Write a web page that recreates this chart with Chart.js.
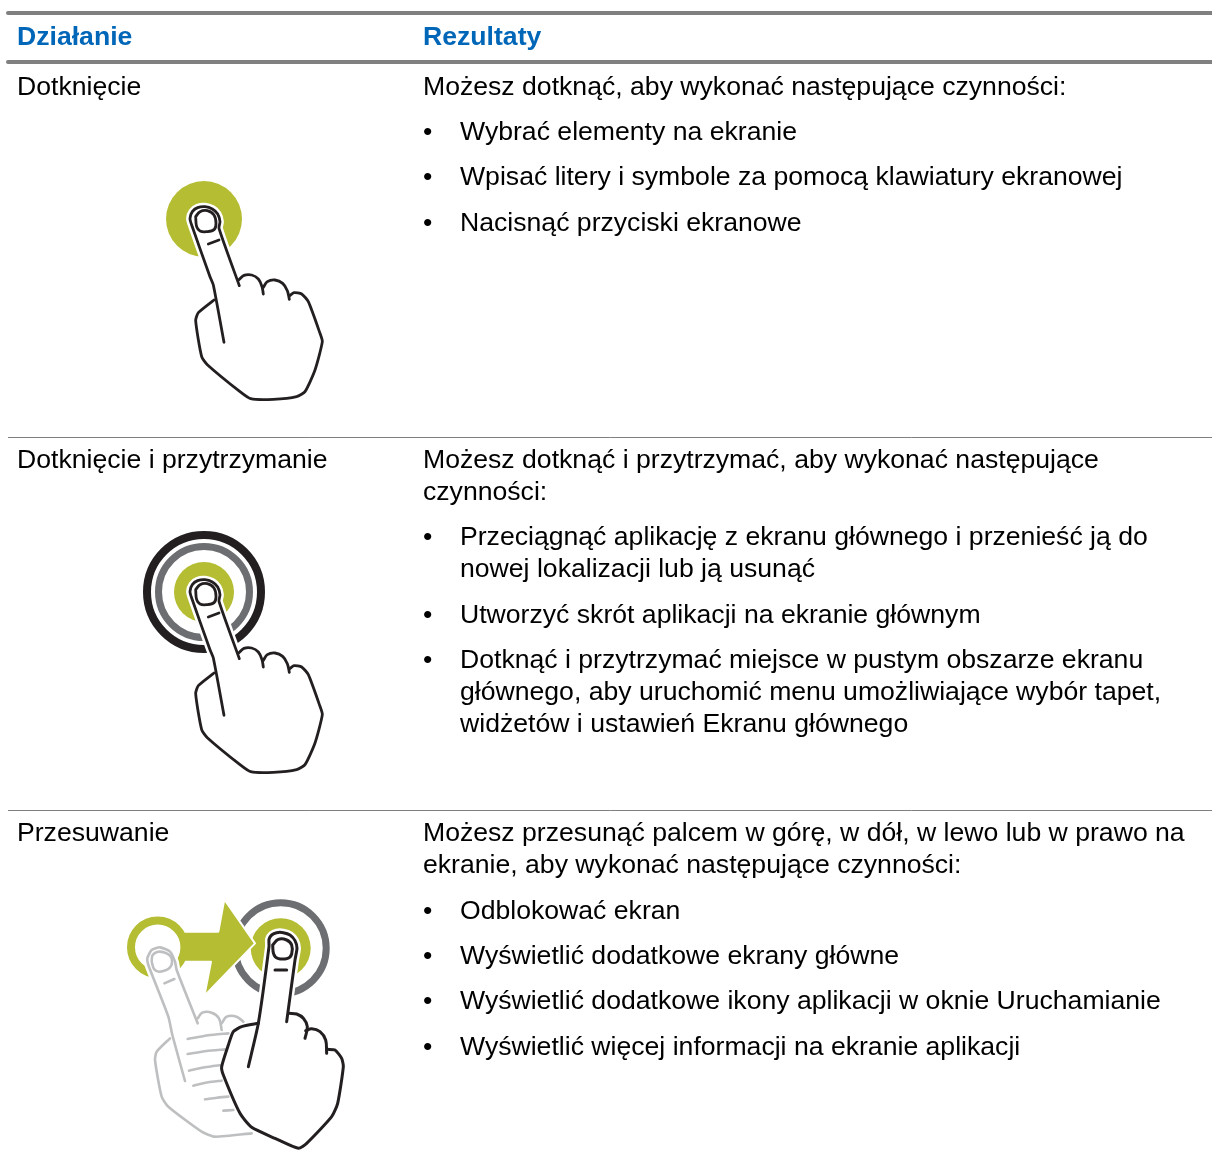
<!DOCTYPE html>
<html lang="pl">
<head>
<meta charset="utf-8">
<style>
html,body{margin:0;padding:0;background:#fff;width:1212px;height:1175px;overflow:hidden}
#wrap{position:relative;width:1212px;height:1175px}
canvas{position:absolute;left:0;top:0}
.t{position:absolute;white-space:pre;font-family:"Liberation Sans",Arial,sans-serif;font-size:26.62px;line-height:30px;color:#000}
.h{font-weight:bold;color:#0066b8}
</style>
<script src="https://cdn.jsdelivr.net/npm/chart.js@4"></script>
</head>
<body>
<div id="wrap"><canvas id="c" width="1212" height="1175"></canvas></div>
<script>
// ---- Text content ----
const headerLabels = ["Działanie", "Rezultaty"];
const actionLabels = ["Dotknięcie", "Dotknięcie i przytrzymanie", "Przesuwanie"];
const resultLines = [
  "Możesz dotknąć, aby wykonać następujące czynności:",
  "Możesz dotknąć i przytrzymać, aby wykonać następujące",
  "czynności:",
  "Możesz przesunąć palcem w górę, w dół, w lewo lub w prawo na",
  "ekranie, aby wykonać następujące czynności:"
];
const resultLineY = [86, 459, 491, 832, 864];
const bulletLines = [
  "Wybrać elementy na ekranie",
  "Wpisać litery i symbole za pomocą klawiatury ekranowej",
  "Nacisnąć przyciski ekranowe",
  "Przeciągnąć aplikację z ekranu głównego i przenieść ją do",
  "nowej lokalizacji lub ją usunąć",
  "Utworzyć skrót aplikacji na ekranie głównym",
  "Dotknąć i przytrzymać miejsce w pustym obszarze ekranu",
  "głównego, aby uruchomić menu umożliwiające wybór tapet,",
  "widżetów i ustawień Ekranu głównego",
  "Odblokować ekran",
  "Wyświetlić dodatkowe ekrany główne",
  "Wyświetlić dodatkowe ikony aplikacji w oknie Uruchamianie",
  "Wyświetlić więcej informacji na ekranie aplikacji"
];
const bulletLineY = [131,176,222,536,568,614,659,691,723,910,955,1000,1046];
const bulletFlags = [1,1,1,1,0,1,1,0,0,1,1,1,1];
const actionY = [86,459,832];

// ---- Illustration outlines (crop units = 3 per px) ----
const handArcA = [[266,330],[282,316],[305,315],[325,327],[336,350],[340,372]];
const handArcB = [[340,352],[352,335],[375,330],[398,340],[412,362],[418,388]];
const handSide = [[418,378],[432,368],[455,372],[475,395],[510,490],[517,515],[495,600],[465,665],[440,680],[370,688],[302,686],[270,665],[172,584],[155,560],[137,452],[145,428],[192,390]];
const handFinger = [[222,517],[190,345],[180,320],[125,165],[120,145],[127,125],[143,113],[165,110],[187,117],[203,132],[210,155],[207,175],[268,347]];
const handNail = [[137,140],[140,170],[150,183],[170,185],[193,178],[198,160],[192,135],[172,122],[150,125],[137,140]];
const handCrease = [[175,222],[207,210]];

const swipeArcA = [[522,370],[545,372],[565,385],[577,410],[570,445]];
const swipeArcB = [[572,422],[590,416],[615,425],[632,450],[635,490]];
const swipeSide = [[637,478],[660,480],[680,505],[685,530],[668,640],[650,680],[575,760],[550,775],[480,745],[410,712],[375,670],[325,555],[320,530],[340,465],[355,425],[380,410],[430,400]];
const swipeFinger = [[400,530],[430,400],[462,170],[462,148],[470,135],[485,128],[505,128],[525,135],[540,152],[546,175],[540,210],[515,395]];
const swipeNail = [[473,165],[476,192],[488,205],[518,205],[530,192],[530,165],[515,150],[490,148],[473,165]];
const swipeCrease = [[480,240],[515,240]];

const ghostArcA = [[248,385],[262,368],[290,368],[312,385],[320,420]];
const ghostArcB = [[320,400],[335,380],[365,380],[385,395]];
const ghostSide = [[165,445],[125,485],[120,510],[140,620],[160,650],[260,725],[300,740],[410,730]];
const ghostFinger = [[210,573],[172,435],[160,380],[100,225],[97,205],[110,180],[135,172],[165,185],[180,215],[185,240],[248,400]];
const ghostNail = [[110,215],[118,238],[135,245],[165,232],[170,205],[155,190],[130,185],[113,195],[110,215]];
const ghostCrease = [[148,280],[178,267]];
const ghostStripes = [
  [[218,447],[280,436],[340,430]],
  [[218,492],[275,483],[330,478]],
  [[222,542],[270,532],[320,525]],
  [[235,587],[280,577],[320,572]],
  [[270,628],[305,623],[340,620]],
  [[325,662],[355,660]]
];
const arrowShape = [[205,125],[310,125],[328,28],[420,160],[268,318],[288,215],[205,215],[205,125]];

const GREEN="#b5bd33", GRAY="#6d6e71", BLACK="#231f20", LIGHT="#bdbfc1", RULE="#808080";
const page=(pts,ox,oy)=>pts.map(([x,y])=>({x:ox+x/3,y:oy+y/3}));

const layers=[];
const line=(data,color,width,tension=0.3)=>layers.push({data,showLine:true,fill:false,borderColor:color,borderWidth:width,tension,pointRadius:0,borderCapStyle:'round',borderJoinStyle:'round'});
const shape=(data,color,stroke,width,tension=0.3)=>layers.push({data,showLine:true,fill:'shape',backgroundColor:color,borderColor:stroke,borderWidth:width,tension,pointRadius:0,borderJoinStyle:'round'});
const disc=(x,y,r,color)=>layers.push({data:[{x,y}],showLine:false,pointRadius:r,pointHoverRadius:r,pointBackgroundColor:color,pointBorderColor:color,pointBorderWidth:0,pointStyle:'circle'});
const ring=(x,y,r,w,color)=>layers.push({data:[{x,y}],showLine:false,pointRadius:r,pointHoverRadius:r,pointBackgroundColor:'rgba(0,0,0,0)',pointBorderColor:color,pointBorderWidth:w,pointStyle:'circle'});

function hand(arcs,side,finger,nail,crease,ox,oy,color,w){
  const outline=[].concat(...arcs,side,[finger[finger.length-1],finger[0]]);
  shape(page(outline,ox,oy),'#fff','rgba(0,0,0,0)',0,0.12);
  line(page(finger,ox,oy),'#fff',w+5,0.2);
  shape(page(finger,ox,oy),'#fff','rgba(0,0,0,0)',0,0.2);
  arcs.forEach(a=>line(page(a,ox,oy),color,w,0.35));
  line(page(side,ox,oy),color,w,0.2);
  line(page(finger,ox,oy),color,w,0.2);
  line(page(nail,ox,oy),color,w,0.4);
  line(page(crease,ox,oy),color,w,0);
}

// table rules
line([{x:8,y:13},{x:1212,y:13}],RULE,4,0);
line([{x:8,y:62},{x:1212,y:62}],RULE,4,0);
line([{x:8,y:437.5},{x:1212,y:437.5}],RULE,1,0);
line([{x:8,y:810.5},{x:1212,y:810.5}],RULE,1,0);

// Tap
disc(204,219,38,GREEN);
hand([handArcA,handArcB],handSide,handFinger,handNail,handCrease,150,170,BLACK,2.8);

// Tap & hold
ring(204,592,57,8,BLACK);
ring(204,592,45.5,7,GRAY);
disc(204,592,30,GREEN);
hand([handArcA,handArcB],handSide,handFinger,handNail,handCrease,150,543,BLACK,2.8);

// Swipe
ring(280.7,948.3,45.5,7,GRAY);
disc(280.7,948.3,30,GREEN);
shape(page(arrowShape,115,890),GREEN,'#fff',2,0);
ring(157.7,947.3,26.7,8,GREEN);
hand([ghostArcA,ghostArcB],ghostSide,ghostFinger,ghostNail,ghostCrease,115,890,LIGHT,2.6);
ghostStripes.forEach(s=>line(page(s,115,890),LIGHT,2.6,0.2));
hand([swipeArcA,swipeArcB],swipeSide,swipeFinger,swipeNail,swipeCrease,115,890,BLACK,3);

layers.forEach((d,i)=>{d.order=layers.length-i;});

new Chart(document.getElementById('c'),{
  type:'scatter',
  data:{datasets:layers},
  options:{
    responsive:false,animation:false,events:[],
    layout:{padding:0,autoPadding:false},
    plugins:{legend:{display:false},tooltip:{enabled:false},title:{display:false}},
    scales:{
      x:{type:'linear',min:0,max:1212,display:false},
      y:{type:'linear',min:0,max:1175,reverse:true,display:false}
    }
  }
});

// ---- Real text ----
const wrap=document.getElementById('wrap');
function put(text,x,yc,cls){
  const s=document.createElement('div');
  s.className='t'+(cls?' '+cls:'');
  s.textContent=text;
  s.style.left=x+'px';
  s.style.top=(yc-15)+'px';
  wrap.appendChild(s);
}
put(headerLabels[0],17,36,'h');
put(headerLabels[1],423,36,'h');
actionLabels.forEach((t,i)=>put(t,17,actionY[i]));
resultLines.forEach((t,i)=>put(t,423,resultLineY[i]));
bulletLines.forEach((t,i)=>{
  if(bulletFlags[i]) put("•",423,bulletLineY[i]);
  put(t,460,bulletLineY[i]);
});
</script>
</body>
</html>
